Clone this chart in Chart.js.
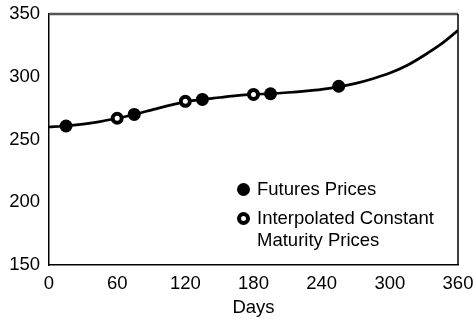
<!DOCTYPE html>
<html><head><meta charset="utf-8">
<script src="https://cdn.jsdelivr.net/npm/chart.js@4"></script>
<style>
html,body{margin:0;padding:0;background:#fff;}
#wrap{position:relative;width:476px;height:319px;}
.lg{position:absolute;font-family:"Liberation Sans",Arial,sans-serif;font-size:18.5px;color:#000;line-height:22px;white-space:nowrap;}
.dot{position:absolute;border-radius:50%;box-sizing:border-box;}
</style></head>
<body><div id="wrap"><canvas id="c" width="476" height="319"></canvas>
<div class="dot" style="left:237px;top:183px;width:13px;height:13px;background:#000;"></div>
<div class="lg" style="left:257px;top:178px;">Futures Prices</div>
<div class="dot" style="left:237px;top:212px;width:13px;height:13px;background:#fff;border:4px solid #000;"></div>
<div class="lg" style="left:257px;top:207px;">Interpolated Constant<br>Maturity Prices</div>
</div>
<script>
const curveDays = [0,15,30,45,60,75,90,105,120,135,150,165,180,195,210,225,240,255,270,285,300,315,330,345,360];
const curveValues = [260,260.8,262.3,264.3,267,270,273.5,277,280,282,283.5,285,286,286.6,287.5,288.6,290,292,294.8,298.5,303,309,317,326,337];
const futuresDays = [15,75,135,195,255];
const futuresValues = [260.8,270,282,286.5,292.5];
const interpDays = [60,120,180];
const interpValues = [267,280.5,286];
const xTicks = [0,60,120,180,240,300,360];
const yTicks = [150,200,250,300,350];

const toXY = (xs, ys) => xs.map((x,i)=>({x:x,y:ys[i]}));
const font = {family:'"Liberation Sans", Arial, sans-serif', size:18.5};

const frame = {
  id:'frame',
  afterDraw(chart){
    const {ctx, chartArea:a} = chart;
    ctx.save();
    ctx.strokeStyle = '#555'; ctx.lineWidth = 2.5;
    ctx.beginPath(); ctx.moveTo(a.left, a.top); ctx.lineTo(a.right, a.top); ctx.stroke();
    ctx.strokeStyle = '#000'; ctx.lineWidth = 1.5;
    ctx.beginPath(); ctx.moveTo(a.right, a.top); ctx.lineTo(a.right, a.bottom); ctx.stroke();
    ctx.restore();
  }
};

new Chart(document.getElementById('c'), {
  type:'scatter',
  data:{datasets:[
    {data:toXY(curveDays,curveValues), showLine:true, borderColor:'#000', borderWidth:2.7, pointRadius:0, cubicInterpolationMode:'monotone', order:3},
    {data:toXY(interpDays,interpValues), pointRadius:4.5, pointBorderWidth:4, pointBackgroundColor:'#fff', pointBorderColor:'#000', order:1},
    {data:toXY(futuresDays,futuresValues), pointRadius:6.5, pointBorderWidth:0, pointBackgroundColor:'#000', pointBorderColor:'#000', order:2}
  ]},
  options:{
    responsive:false, animation:false,
    layout:{padding:{left:0,right:18,top:14,bottom:0}},
    plugins:{legend:{display:false}, tooltip:{enabled:false}},
    scales:{
      x:{type:'linear', min:0, max:360,
        afterBuildTicks:s=>{s.ticks = xTicks.map(v=>({value:v}));},
        afterFit:s=>{s.height = 54;},
        grid:{display:false, drawOnChartArea:false, drawTicks:true, tickLength:6, tickColor:'#000', tickWidth:1.5},
        border:{color:'#000', width:1.5},
        ticks:{color:'#000', font:font, padding:2, maxRotation:0},
        title:{display:true, text:'Days', color:'#000', font:font, padding:{top:0,bottom:0}}
      },
      y:{min:150, max:350,
        afterBuildTicks:s=>{s.ticks = yTicks.map(v=>({value:v}));},
        afterFit:s=>{s.width = 49;},
        grid:{display:false, drawOnChartArea:false, drawTicks:true, tickLength:6, tickColor:'#000', tickWidth:1.5},
        border:{color:'#000', width:1.5},
        ticks:{color:'#000', font:font, padding:3}
      }
    }
  },
  plugins:[frame]
});
</script></body></html>
